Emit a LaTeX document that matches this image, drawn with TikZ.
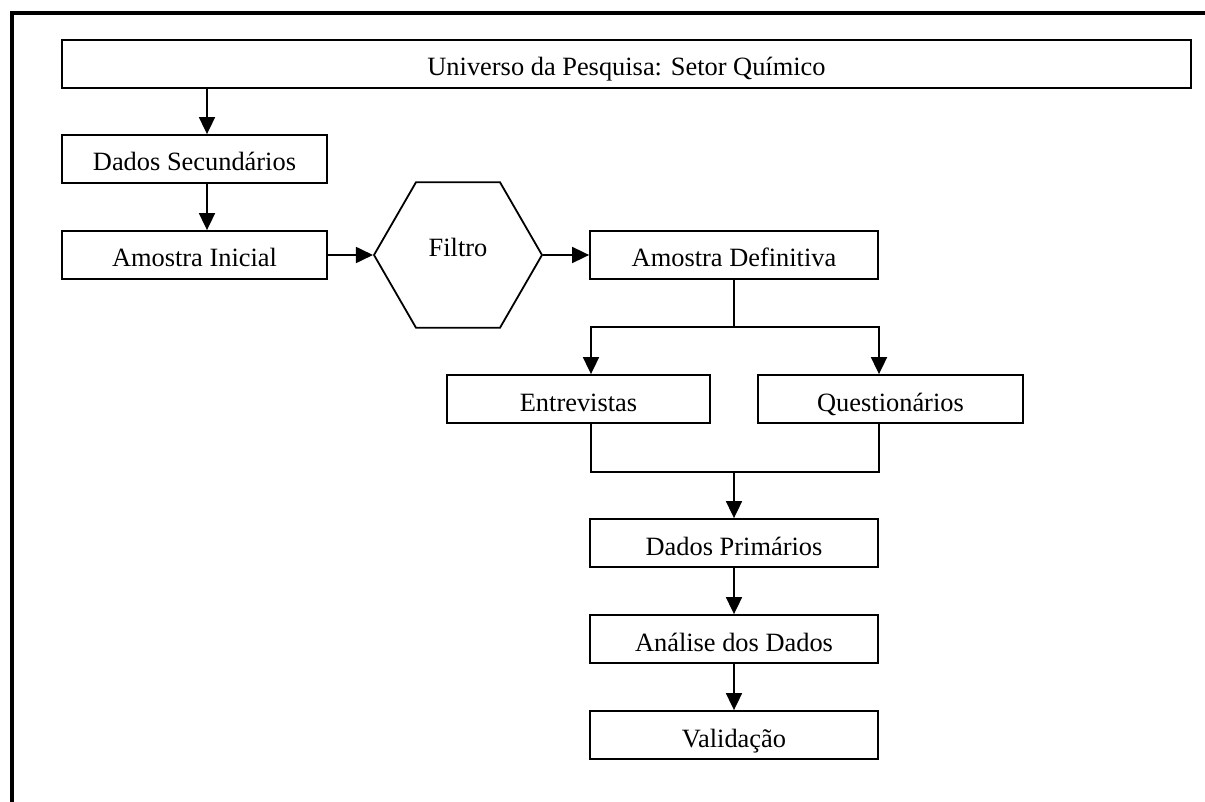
\documentclass[tikz,border=0pt]{standalone}
\usepackage{fontspec}
\setmainfont{Liberation Serif}
\usetikzlibrary{arrows.meta,shapes.geometric}

\begin{document}
\begin{tikzpicture}[x=0.5pt,y=-0.5pt,
  font=\fontsize{13.2}{16}\selectfont,
  stagebox/.style={draw,line width=0.9pt,inner xsep=2pt,inner ysep=0pt,
    minimum height=24pt,text height=18pt,text depth=6pt},
  hexbox/.style={draw,line width=0.9pt,regular polygon,regular polygon sides=6,
    minimum size=84pt,inner sep=0pt},
  link/.style={line width=0.9pt},
  arr/.style={link,-{Triangle[length=8.5pt,width=8pt]}},
  frameline/.style={line width=1.8pt}]

\useasboundingbox (0,0) rectangle (1205,802);

% open frame: top and left edges only
\draw[frameline] (12,802) -- (12,13) -- (1205,13);

% stages
\node[stagebox,minimum width=564.5pt] (univ) at (626.5,64) {Universo da Pesquisa: Setor Químico};
\node[stagebox,minimum width=132.5pt] (dsec) at (194.5,159) {Dados Secundários};
\node[stagebox,minimum width=132.5pt] (ainic) at (194.5,255) {Amostra Inicial};
\node[hexbox] (filtro) at (458,255) {};
\node[anchor=base] (filtrotxt) at (458,256.5) {Filtro};
\node[stagebox,minimum width=144pt] (adef) at (734,255) {Amostra Definitiva};
\node[stagebox,minimum width=131.5pt] (entr) at (578.5,399) {Entrevistas};
\node[stagebox,minimum width=132.5pt] (quest) at (890.5,399) {Questionários};
\node[stagebox,minimum width=144pt] (dprim) at (734,543) {Dados Primários};
\node[stagebox,minimum width=144pt] (anal) at (734,639) {Análise dos Dados};
\node[stagebox,minimum width=144pt] (valid) at (734,735) {Validação};

% guide coordinates for the connectors
\coordinate (leftcol) at (207,0);
\coordinate (split) at (734,327);
\coordinate (entrx) at (591,0);
\coordinate (questx) at (879,0);
\coordinate (join) at (734,472);

% connectors
\draw[arr] (univ.south -| leftcol) -- (dsec.north -| leftcol);
\draw[arr] (dsec.south -| leftcol) -- (ainic.north -| leftcol);
\draw[arr] (ainic.east) -- (filtro.west);
\draw[arr] (filtro.east) -- (adef.west);
\draw[link] (adef.south) -- (split);
\draw[arr] (split) -| (entr.north -| entrx);
\draw[arr] (split) -| (quest.north -| questx);
\draw[link] (entr.south -| entrx) |- (join);
\draw[link] (quest.south -| questx) |- (join);
\draw[arr] (join) -- (dprim.north);
\draw[arr] (dprim.south) -- (anal.north);
\draw[arr] (anal.south) -- (valid.north);
\end{tikzpicture}
\end{document}
